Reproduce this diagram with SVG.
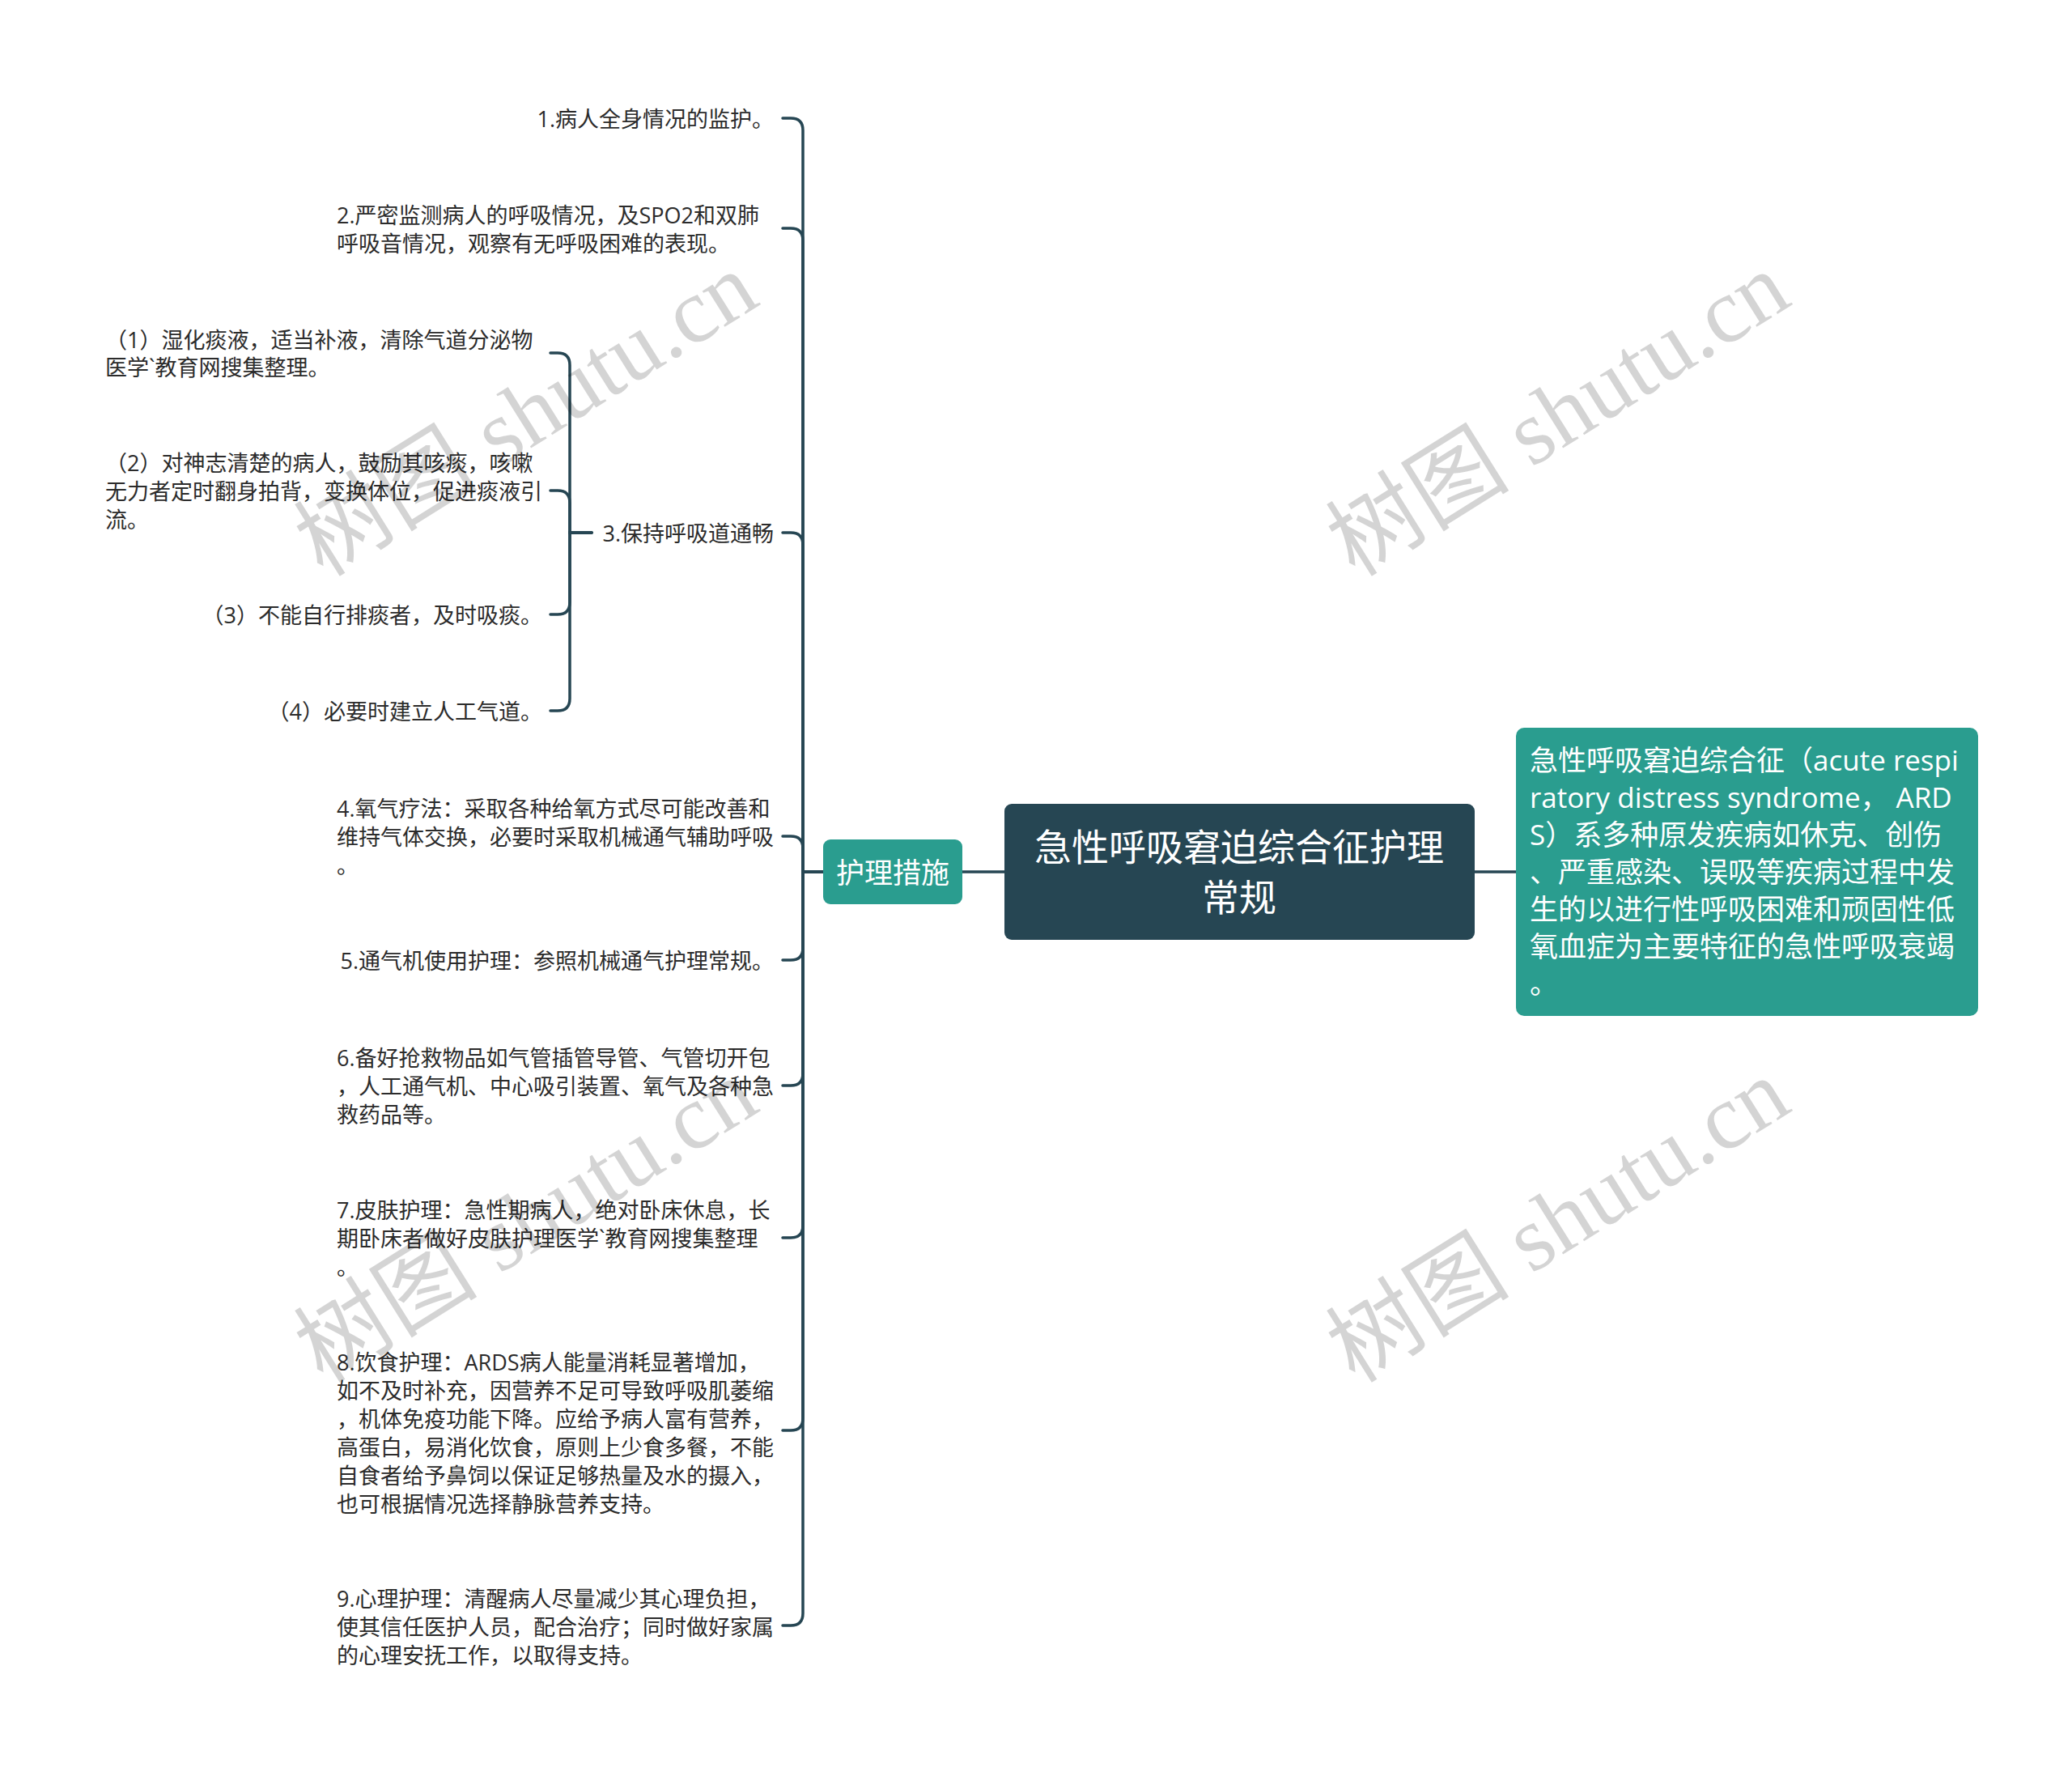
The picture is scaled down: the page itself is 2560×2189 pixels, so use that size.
<svg xmlns="http://www.w3.org/2000/svg" width="2560" height="2189" viewBox="0 0 2560 2189">
<style>
.t{font-family:"Open Sans","Noto Sans CJK SC",sans-serif;font-size:27px;fill:#2b2b2b;dominant-baseline:central}
.e{text-anchor:end}
.w{font-family:"Open Sans","Noto Sans CJK SC",sans-serif;fill:#ffffff;dominant-baseline:central}
.c{fill:none;stroke:#264653;stroke-width:3.5;stroke-linecap:round}
.wm{font-family:"Liberation Serif","Noto Sans CJK SC",serif;font-size:114px;fill:#000;fill-opacity:0.17;text-anchor:middle;dominant-baseline:central}
</style>
<rect width="2560" height="2189" fill="#ffffff"/>
<g id="connectors">
<path class="c" d="M1017,1077 H992 V161 Q992,146 977,146 H967"/>
<path class="c" d="M1017,1077 H992 V297 Q992,282 977,282 H967"/>
<path class="c" d="M1017,1077 H992 V673 Q992,658 977,658 H967"/>
<path class="c" d="M1017,1077 H992 V1048 Q992,1033 977,1033 H967"/>
<path class="c" d="M1017,1077 H992 V1171 Q992,1186 977,1186 H967"/>
<path class="c" d="M1017,1077 H992 V1326 Q992,1341 977,1341 H967"/>
<path class="c" d="M1017,1077 H992 V1514 Q992,1529 977,1529 H967"/>
<path class="c" d="M1017,1077 H992 V1752 Q992,1767 977,1767 H967"/>
<path class="c" d="M1017,1077 H992 V1993 Q992,2008 977,2008 H967"/>
<path class="c" d="M731,658 H704 V451 Q704,436 689,436 H680"/>
<path class="c" d="M731,658 H704 V621 Q704,606 689,606 H680"/>
<path class="c" d="M731,658 H704 V744 Q704,759 689,759 H680"/>
<path class="c" d="M731,658 H704 V863 Q704,878 689,878 H680"/>
<path class="c" d="M1189,1077 H1241"/>
<path class="c" d="M1822,1077 H1873"/>
</g>
<g id="root">
<rect x="1241" y="993" width="581" height="168" rx="9" fill="#264653"/>
<text class="w" font-size="46" text-anchor="middle"><tspan x="1531" y="1045">急性呼吸窘迫综合征护理</tspan><tspan x="1531" y="1107">常规</tspan></text>
</g>
<g id="def">
<rect x="1873" y="899" width="571" height="356" rx="10" fill="#2a9d8f"/>
<text class="w" font-size="35"><tspan x="1890" y="938">急性呼吸窘迫综合征（acute respi</tspan><tspan x="1890" y="984">ratory distress syndrome， ARD</tspan><tspan x="1890" y="1030">S）系多种原发疾病如休克、创伤</tspan><tspan x="1890" y="1076">、严重感染、误吸等疾病过程中发</tspan><tspan x="1890" y="1122">生的以进行性呼吸困难和顽固性低</tspan><tspan x="1890" y="1168">氧血症为主要特征的急性呼吸衰竭</tspan><tspan x="1890" y="1214">。</tspan></text>
</g>
<g id="measures">
<rect x="1017" y="1037" width="172" height="80" rx="9" fill="#2a9d8f"/>
<text class="w" font-size="35" text-anchor="middle" x="1103" y="1077">护理措施</text>
</g>
<g id="n1"><text class="t e" x="956" y="146">1.病人全身情况的监护。</text></g>
<g id="n2"><text class="t"><tspan x="416" y="265">2.严密监测病人的呼吸情况，及SPO2和双肺</tspan><tspan x="416" y="300">呼吸音情况，观察有无呼吸困难的表现。</tspan></text></g>
<g id="n3"><text class="t e" x="956" y="658">3.保持呼吸道通畅</text></g>
<g id="n3-1"><text class="t"><tspan x="130" y="419">（1）湿化痰液，适当补液，清除气道分泌物</tspan><tspan x="130" y="453">医学`教育网搜集整理。</tspan></text></g>
<g id="n3-2"><text class="t"><tspan x="130" y="571">（2）对神志清楚的病人，鼓励其咳痰，咳嗽</tspan><tspan x="130" y="606">无力者定时翻身拍背，变换体位，促进痰液引</tspan><tspan x="130" y="641">流。</tspan></text></g>
<g id="n3-3"><text class="t e" x="670" y="759">（3）不能自行排痰者，及时吸痰。</text></g>
<g id="n3-4"><text class="t e" x="670" y="878">（4）必要时建立人工气道。</text></g>
<g id="n4"><text class="t"><tspan x="416" y="998">4.氧气疗法：采取各种给氧方式尽可能改善和</tspan><tspan x="416" y="1033">维持气体交换，必要时采取机械通气辅助呼吸</tspan><tspan x="416" y="1068">。</tspan></text></g>
<g id="n5"><text class="t e" x="956" y="1186">5.通气机使用护理：参照机械通气护理常规。</text></g>
<g id="n6"><text class="t"><tspan x="416" y="1306">6.备好抢救物品如气管插管导管、气管切开包</tspan><tspan x="416" y="1341">，人工通气机、中心吸引装置、氧气及各种急</tspan><tspan x="416" y="1376">救药品等。</tspan></text></g>
<g id="n7"><text class="t"><tspan x="416" y="1494">7.皮肤护理：急性期病人，绝对卧床休息，长</tspan><tspan x="416" y="1529">期卧床者做好皮肤护理医学`教育网搜集整理</tspan><tspan x="416" y="1564">。</tspan></text></g>
<g id="n8"><text class="t"><tspan x="416" y="1682">8.饮食护理：ARDS病人能量消耗显著增加，</tspan><tspan x="416" y="1717">如不及时补充，因营养不足可导致呼吸肌萎缩</tspan><tspan x="416" y="1752">，机体免疫功能下降。应给予病人富有营养，</tspan><tspan x="416" y="1787">高蛋白，易消化饮食，原则上少食多餐，不能</tspan><tspan x="416" y="1822">自食者给予鼻饲以保证足够热量及水的摄入，</tspan><tspan x="416" y="1857">也可根据情况选择静脉营养支持。</tspan></text></g>
<g id="n9"><text class="t"><tspan x="416" y="1974">9.心理护理：清醒病人尽量减少其心理负担，</tspan><tspan x="416" y="2009">使其信任医护人员，配合治疗；同时做好家属</tspan><tspan x="416" y="2044">的心理安抚工作，以取得支持。</tspan></text></g>
<g id="watermarks">
<text class="wm" transform="translate(650,512) rotate(-32)">树图 shutu.cn</text>
<text class="wm" transform="translate(1925,512) rotate(-32)">树图 shutu.cn</text>
<text class="wm" transform="translate(650,1508) rotate(-32)">树图 shutu.cn</text>
<text class="wm" transform="translate(1925,1508) rotate(-32)">树图 shutu.cn</text>
</g>
</svg>
